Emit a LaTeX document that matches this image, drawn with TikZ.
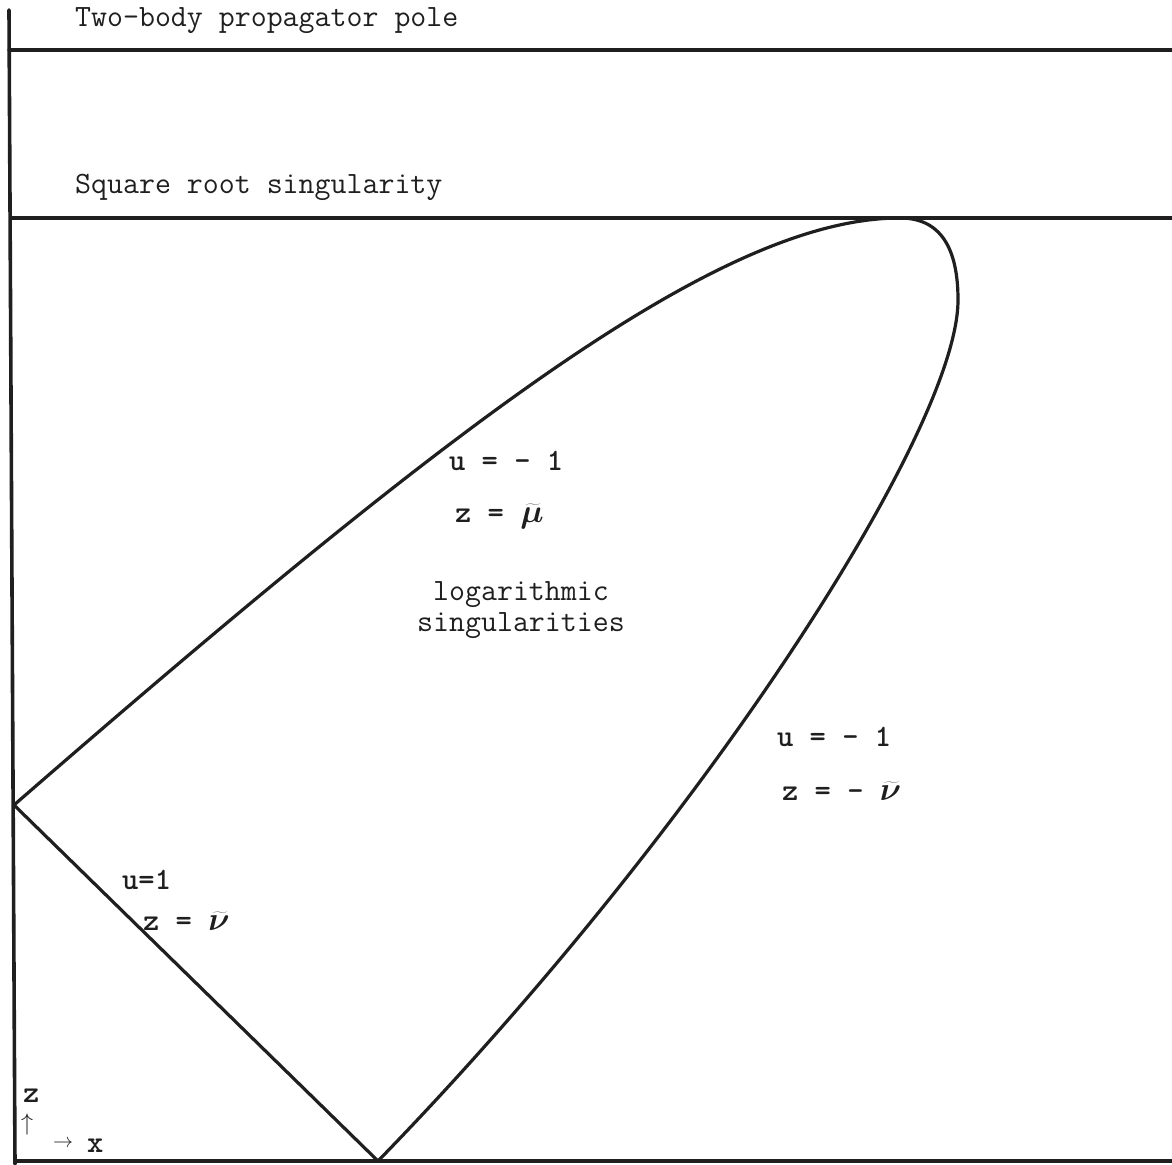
\RequirePackage{fix-cm}
\documentclass[tikz,border=0pt]{standalone}
\newcommand{\tgr}[1]{{\fontsize{33}{38}\selectfont\boldmath$\widetilde{#1}$}}
\begin{document}
\begin{tikzpicture}[x=1pt,y=-1pt,
  ln/.style={line width=3.2pt, line cap=round, line join=round, color=black!88},
  txt/.style={inner sep=0pt, anchor=base west, text=black!88, font=\fontsize{31}{36}\selectfont\ttfamily},
  btxt/.style={txt, font=\fontsize{31}{36}\selectfont\ttfamily\bfseries}]
\useasboundingbox (0,0) rectangle (1172,1164);
% frame lines
\coordinate (axtop) at (9,10);
\coordinate (axbot) at (15,1164);
\coordinate (l1a) at (9,50);    \coordinate (l1b) at (1172,50);
\coordinate (l2a) at (12,218);  \coordinate (l2b) at (1172,218);
\coordinate (l3a) at (15,1161); \coordinate (l3b) at (1172,1161);
\draw[ln, line width=3.6pt] (axtop) -- (axbot);
\draw[ln] (l1a) -- (l1b);
\draw[ln] (l2a) -- (l2b);
\draw[ln] (l3a) -- (l3b);
% closed region
\coordinate (apex) at (14,805);
\coordinate (bot) at (378,1161);
\coordinate (top) at (900,218);
\coordinate (rt) at (958,300);
\draw[ln] (apex) .. controls (450,426) and (720,218) .. (top)
  .. controls (945,218) and (958,255) .. (rt)
  .. controls (958,430) and (700,830) .. (bot) -- (apex);
% labels
\node[txt] (title) at (75,27) {Two-body propagator pole};
\node[txt] (sq) at (75,193) {Square root singularity};
\node[btxt] (u1) at (449,470) {u = - 1};
\node[btxt] (z1) at (455,522) {z = \tgr{\mu}};
\node[txt, anchor=base] (log1) at (521,600) {logarithmic};
\node[txt, anchor=base] (log2) at (521,631) {singularities};
\node[btxt] (u2) at (777,746) {u = - 1};
\node[btxt] (z2) at (782,800) {z = - \tgr{\nu}};
\node[btxt] (u3) at (122,889) {u=1};
\node[btxt] (z3) at (143,930) {z = \tgr{\nu}};
\node[btxt] (zax) at (23,1102) {z};
\node[txt, font=\fontsize{24}{28}\selectfont] (uparr) at (21,1130) {$\uparrow$};
\node[txt, font=\fontsize{20}{24}\selectfont] (rarr) at (53,1147) {$\rightarrow$};
\node[btxt] (xax) at (87,1152) {x};
\end{tikzpicture}
\end{document}
